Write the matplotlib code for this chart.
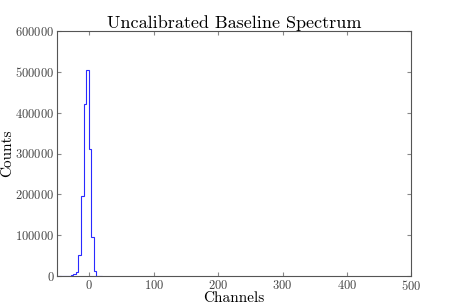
import matplotlib
matplotlib.use('Agg')
import matplotlib.pyplot as plt
import numpy as np

# histogram of channels (bin edges, counts per bin)
bin_edges = [-49, -45, -41, -37, -33, -29, -25, -21, -17, -13, -9, -5, -1, 3, 7, 11, 15, 19]
counts = [300, 500, 800, 1200, 1800, 3000, 5000, 10000, 53000, 195000,
          421000, 505000, 312000, 95000, 13000, 1500, 0]

xticks = [0, 100, 200, 300, 400, 500]
yticks = [0, 100000, 200000, 300000, 400000, 500000, 600000]

plt.rcParams['font.family'] = 'serif'
plt.rcParams['font.serif'] = ['cmr10']
plt.rcParams['mathtext.fontset'] = 'cm'
plt.rcParams['axes.formatter.use_mathtext'] = True

fig = plt.figure(figsize=(4.57, 3.07), dpi=100)
ax = fig.add_axes([0.125, 0.1, 0.775, 0.8])

ax.stairs(counts, bin_edges, color='#2a2aff', lw=0.8)

ax.set_xlim(-50, 500)
ax.set_ylim(0, 600000)
ax.set_xticks(xticks)
ax.set_yticks(yticks)
ax.tick_params(direction='in', top=True, right=True, length=3, color='#888888',
               labelsize=9, labelcolor='#444444', pad=2)
for s in ax.spines.values():
    s.set_color('#555555')

ax.set_title('Uncalibrated Baseline Spectrum', fontsize=13, pad=2)
ax.set_xlabel('Channels', fontsize=11, labelpad=-1)
ax.set_ylabel('Counts', fontsize=11, labelpad=1)

fig.savefig('out.png', dpi=100)
